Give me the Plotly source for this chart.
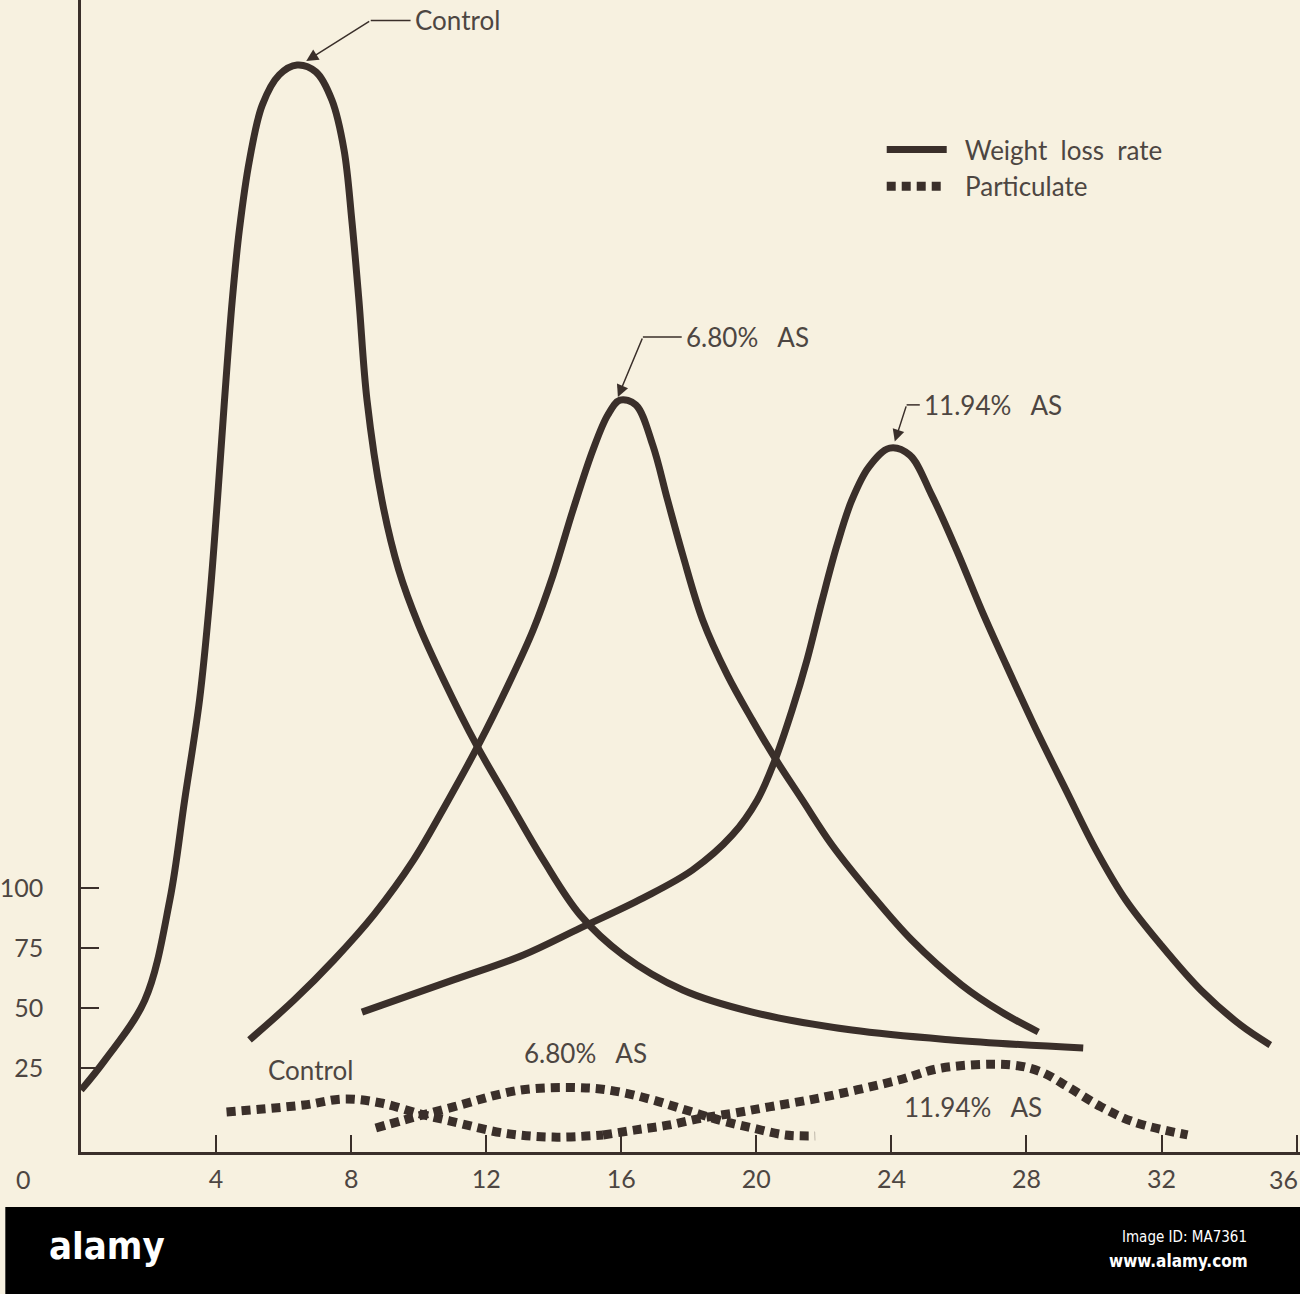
import plotly.graph_objects as go

# ---------------- data ----------------
# Weight loss rate curves (solid)
control_wl_x = [0, 0.71, 1.89, 2.63, 3.07, 3.51, 3.81, 4.04, 4.25, 4.48, 4.69, 4.99, 5.37, 5.87, 6.40,
                6.96, 7.43, 7.79, 8.02, 8.23, 8.47, 8.91, 9.41, 10.00, 10.74, 11.71, 12.65, 13.69,
                14.78, 16.05, 17.82, 19.88, 22.83, 25.78, 29.68]
control_wl_y = [15.8, 28.3, 53.3, 95.0, 136.7, 178.3, 220.0, 261.7, 303.3, 345.0, 374.2, 403.3, 426.3,
                438.8, 442.9, 440.0, 428.3, 407.5, 378.3, 345.0, 303.3, 261.7, 232.5, 209.6, 186.7,
                159.6, 136.7, 111.7, 88.8, 72.1, 57.5, 48.3, 40.8, 36.7, 33.3]

as680_wl_x = [4.99, 6.31, 7.49, 8.67, 9.85, 10.88, 11.77, 12.65, 13.39, 13.98, 14.57, 15.16, 15.60,
              15.96, 16.43, 16.93, 17.37, 17.82, 18.41, 19.14, 19.88, 20.53, 21.36, 22.24, 23.42,
              24.60, 26.08, 27.26, 28.35]
as680_wl_y = [36.7, 53.3, 70.0, 88.8, 111.7, 136.7, 159.6, 184.6, 207.5, 230.4, 257.5, 282.5, 297.1,
              303.3, 301.3, 284.6, 261.7, 238.8, 211.7, 188.8, 170.0, 154.6, 136.7, 117.9, 97.1,
              78.3, 59.6, 48.3, 40.0]

as1194_wl_x = [8.32, 11.03, 13.10, 14.78, 16.64, 18.11, 19.29, 20.03, 20.53, 21.06, 21.50, 21.95,
               22.39, 22.83, 23.33, 23.95, 24.54, 25.19, 25.93, 26.67, 27.40, 28.29, 29.17, 30.06,
               30.94, 31.98, 33.16, 34.34, 35.22]
as1194_wl_y = [48.3, 61.7, 72.1, 83.3, 95.8, 107.5, 122.1, 136.7, 152.5, 174.2, 195.0, 220.0, 242.9,
               261.7, 275.4, 283.3, 280.4, 263.8, 240.8, 215.8, 192.9, 165.8, 140.8, 115.8, 95.0,
               76.3, 57.5, 42.9, 34.6]

# Particulate curves (dotted)
control_p_x = [4.31, 6.61, 7.79, 8.88, 10.06, 10.94, 12.51, 13.98, 15.46]
control_p_y = [6.7, 9.6, 12.1, 10.4, 5.8, 2.9, -2.1, -3.8, -2.9]

as680_p_x = [8.73, 9.56, 11.03, 13.01, 14.96, 15.96, 16.93, 17.91, 18.91, 19.88, 20.86, 21.74]
as680_p_y = [0.0, 3.3, 8.8, 15.8, 16.7, 15.0, 11.7, 7.5, 3.3, 0.0, -2.9, -3.3]

as1194_p_x = [15.46, 16.43, 17.43, 18.41, 19.38, 20.38, 21.86, 24.22, 25.49, 27.55, 28.44, 29.23,
              30.21, 31.18, 32.77]
as1194_p_y = [-2.9, -0.8, 1.3, 4.2, 6.3, 8.8, 12.5, 20.0, 25.0, 26.3, 23.3, 17.1, 8.8, 2.5, -2.9]

x_ticks = [4, 8, 12, 16, 20, 24, 28, 32, 36]
y_ticks = [25, 50, 75, 100]
series_names = ["Control", "6.80%\u00a0\u00a0\u00a0AS", "11.94%\u00a0\u00a0\u00a0AS"]
legend_names = ["\u00a0\u00a0Weight\u00a0\u00a0loss\u00a0\u00a0rate",
                "\u00a0\u00a0Particulate"]

# ---------------- style ----------------
INK = "#3a2f2a"
TXT = "#4d4642"
BG = "#f7f1e0"
FONT = "Lato, 'Noto Sans', sans-serif"

fig = go.Figure()

solid = [(control_wl_x, control_wl_y), (as680_wl_x, as680_wl_y), (as1194_wl_x, as1194_wl_y)]
dotted = [(control_p_x, control_p_y), (as680_p_x, as680_p_y), (as1194_p_x, as1194_p_y)]

for i, (xs, ys) in enumerate(solid):
    fig.add_trace(go.Scatter(
        x=xs, y=ys, mode="lines", name=legend_names[0], legendgroup="wl",
        showlegend=(i == 0),
        line=dict(color=INK, width=7, shape="spline", smoothing=1.0),
        hoverinfo="skip"))

for i, (xs, ys) in enumerate(dotted):
    fig.add_trace(go.Scatter(
        x=xs, y=ys, mode="lines", name=legend_names[1], legendgroup="p",
        showlegend=(i == 0),
        line=dict(color=INK, width=9, shape="spline", smoothing=1.0, dash="9px,6px"),
        hoverinfo="skip"))

Y_MIN, Y_MAX = -10.0, 470.0
X_MAX = 36.1
PW, PH = 1224.0, 1152.0

annotations = []
shapes = []
lbl_font = dict(family=FONT, size=26, color=TXT)


def leader(tail_x, tail_y, head_x, head_y, bar_x1):
    shapes.append(dict(type="line", xref="x", yref="y", x0=tail_x, y0=tail_y, x1=bar_x1, y1=tail_y,
                       line=dict(color=INK, width=1.5)))
    annotations.append(dict(x=head_x, y=head_y, ax=tail_x, ay=tail_y, xref="x", yref="y",
                            axref="x", ayref="y", text="", showarrow=True, arrowhead=2,
                            arrowsize=1.6, arrowwidth=1.5, arrowcolor=INK, standoff=0))


# top labels with leaders
leader(8.58, 461.5, 6.67, 444.6, 9.76)
annotations.append(dict(x=9.82, y=461.5, xref="x", yref="y",
                        text=series_names[0], showarrow=False, xanchor="left", yanchor="middle",
                        font=lbl_font))
leader(16.64, 329.6, 15.9, 304.6, 17.79)
annotations.append(dict(x=17.85, y=329.6, xref="x", yref="y", text=series_names[1], showarrow=False,
                        xanchor="left", yanchor="middle", font=lbl_font))
leader(24.45, 301.3, 24.1, 286.0, 24.84)
annotations.append(dict(x=24.9, y=301.3, xref="x", yref="y", text=series_names[2], showarrow=False,
                        xanchor="left", yanchor="middle", font=lbl_font))

# bottom particulate labels
annotations.append(dict(x=6.81, y=24.2, xref="x", yref="y", text=series_names[0], showarrow=False,
                        xanchor="center", yanchor="middle", font=lbl_font))
annotations.append(dict(x=14.93, y=31.3, xref="x", yref="y", text=series_names[1], showarrow=False,
                        xanchor="center", yanchor="middle", font=lbl_font))
annotations.append(dict(x=26.43, y=8.8, xref="x", yref="y", text=series_names[2], showarrow=False,
                        xanchor="center", yanchor="middle", font=lbl_font))

# origin label "0" and the last x label (kept inside the page edge)
annotations.append(dict(x=(18 - 76) / PW, y=-(27 / PH), xref="paper", yref="paper", text="0",
                        showarrow=False, xanchor="center", yanchor="middle",
                        font=dict(family=FONT, size=25, color=TXT)))
annotations.append(dict(x=1.0, y=-(27 / PH), xref="paper", yref="paper", text=str(x_ticks[-1]),
                        showarrow=False, xanchor="right", yanchor="middle",
                        font=dict(family=FONT, size=25, color=TXT)))
tick_text = [str(v) for v in x_ticks[:-1]] + [""]

# stock-photo footer band
NARROW = "'Liberation Sans Narrow', 'DejaVu Sans Condensed', 'Liberation Sans', sans-serif"
shapes.append(dict(type="rect", xref="paper", yref="paper", x0=-76 / PW, x1=1.0,
                   y0=-(1294 - 1152) / PH, y1=-(1207 - 1152) / PH, fillcolor="#000000",
                   line=dict(width=0), layer="above"))
annotations.append(dict(x=(102 - 76) / PW, y=-(1246 - 1152) / PH, xref="paper", yref="paper",
                        text="<b>alamy</b>", showarrow=False, xanchor="center", yanchor="middle",
                        font=dict(family=NARROW, size=38, color="#ffffff")))
annotations.append(dict(x=(1249 - 76) / PW, y=-(1237 - 1152) / PH, xref="paper", yref="paper",
                        text="Image ID: MA7361", showarrow=False, xanchor="right", yanchor="middle",
                        font=dict(family=NARROW, size=15, color="#ffffff")))
annotations.append(dict(x=(1250 - 76) / PW, y=-(1261 - 1152) / PH, xref="paper", yref="paper",
                        text="<b>www.alamy.com</b>", showarrow=False, xanchor="right", yanchor="middle",
                        font=dict(family=NARROW, size=17, color="#ffffff")))

fig.update_layout(
    width=1300, height=1294, autosize=False,
    margin=dict(l=76, r=0, t=0, b=142, pad=0),
    paper_bgcolor=BG, plot_bgcolor=BG,
    showlegend=True,
    legend=dict(x=(880 - 76) / PW, y=1 - 126 / PH, xanchor="left", yanchor="top",
                bgcolor="rgba(0,0,0,0)", font=dict(family=FONT, size=26, color=TXT),
                itemwidth=60, tracegroupgap=0),
    annotations=annotations,
    shapes=shapes,
    xaxis=dict(range=[0, X_MAX], tickvals=x_ticks, ticktext=tick_text,
               ticks="inside", ticklen=17, tickwidth=2, tickcolor=INK,
               showline=True, linecolor=INK, linewidth=2.5, showgrid=False, zeroline=False,
               tickfont=dict(family=FONT, size=25, color=TXT), ticklabelstandoff=3),
    yaxis=dict(range=[Y_MIN, Y_MAX], tickvals=y_ticks, ticktext=[str(v) for v in y_ticks],
               ticks="inside", ticklen=18, tickwidth=2, tickcolor=INK,
               showline=True, linecolor=INK, linewidth=2.5, showgrid=False, zeroline=False,
               tickfont=dict(family=FONT, size=25, color=TXT), ticklabelstandoff=30),
)

fig.write_html("out.html")
